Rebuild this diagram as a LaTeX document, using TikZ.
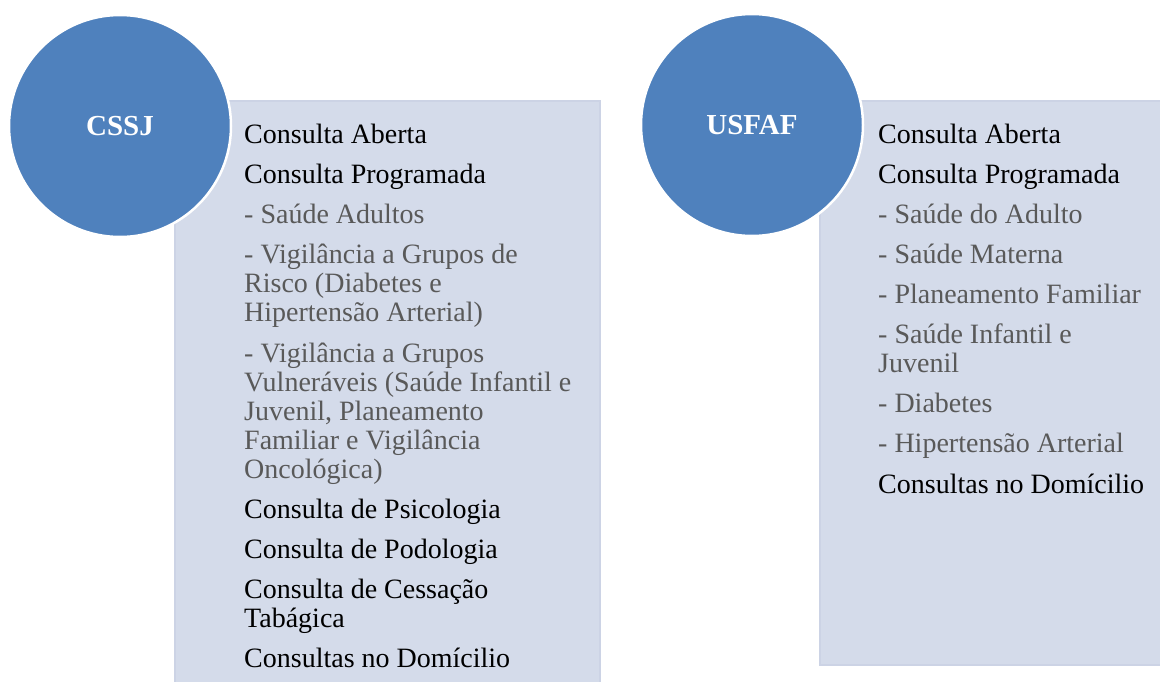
\documentclass[tikz,border=0pt]{standalone}
\usepackage{fontspec}
\setmainfont{Liberation Serif}
\definecolor{circblue}{RGB}{79,129,189}
\definecolor{boxfill}{RGB}{212,219,234}
\definecolor{boxline}{RGB}{204,211,229}
\definecolor{subgrey}{RGB}{89,89,89}
\begin{document}
\begin{tikzpicture}[x=1pt,y=-1pt,
  box/.style={fill=boxfill,draw=boxline,line width=1.5pt},
  circ/.style={circle,fill=circblue,draw=white,line width=2.5pt,minimum size=222pt,inner sep=0pt},
  lbl/.style={anchor=base,inner sep=0pt,text=white,font=\fontsize{29}{31}\selectfont\bfseries},
  mainline/.style={anchor=base west,inner sep=0pt,font=\fontsize{28}{29}\selectfont,text=black},
  subline/.style={mainline,text=subgrey}]
\useasboundingbox (0,0) rectangle (1160,681);
% panels
\path[box] (175,101) rectangle (600,684);
\path[box] (820,101) rectangle (1163,665);
\node[circ] (c1) at (120,126) {};
\node[circ] (c2) at (752,125) {};
\node[lbl] (t1) at (c1.center) [yshift=-9pt] {CSSJ};
\node[lbl] (t2) at (c2.center) [yshift=-9pt] {USFAF};
% left texts
\node[mainline] (a1) at (244,143) {Consulta Aberta};
\node[mainline] (a2) at (244,183) {Consulta Programada};
\node[subline] (a3) at (244,223) {- Saúde Adultos};
\node[subline] (a4) at (244,263) {- Vigilância a Grupos de};
\node[subline] (a5) at (244,292) {Risco (Diabetes e};
\node[subline] (a6) at (244,321) {Hipertensão Arterial)};
\node[subline] (a7) at (244,362) {- Vigilância a Grupos};
\node[subline] (a8) at (244,391) {Vulneráveis (Saúde Infantil e};
\node[subline] (a9) at (244,420) {Juvenil, Planeamento};
\node[subline] (a10) at (244,449) {Familiar e Vigilância};
\node[subline] (a11) at (244,478) {Oncológica)};
\node[mainline] (a12) at (244,518) {Consulta de Psicologia};
\node[mainline] (a13) at (244,558) {Consulta de Podologia};
\node[mainline] (a14) at (244,598) {Consulta de Cessação};
\node[mainline] (a15) at (244,627) {Tabágica};
\node[mainline] (a16) at (244,667) {Consultas no Domícilio};
% right texts
\node[mainline] (b1) at (878,143) {Consulta Aberta};
\node[mainline] (b2) at (878,183) {Consulta Programada};
\node[subline] (b3) at (878,223) {- Saúde do Adulto};
\node[subline] (b4) at (878,263) {- Saúde Materna};
\node[subline] (b5) at (878,303) {- Planeamento Familiar};
\node[subline] (b6) at (878,343) {- Saúde Infantil e};
\node[subline] (b7) at (878,372) {Juvenil};
\node[subline] (b8) at (878,412) {- Diabetes};
\node[subline] (b9) at (878,452) {- Hipertensão Arterial};
\node[mainline] (b10) at (878,493) {Consultas no Domícilio};
\end{tikzpicture}
\end{document}
